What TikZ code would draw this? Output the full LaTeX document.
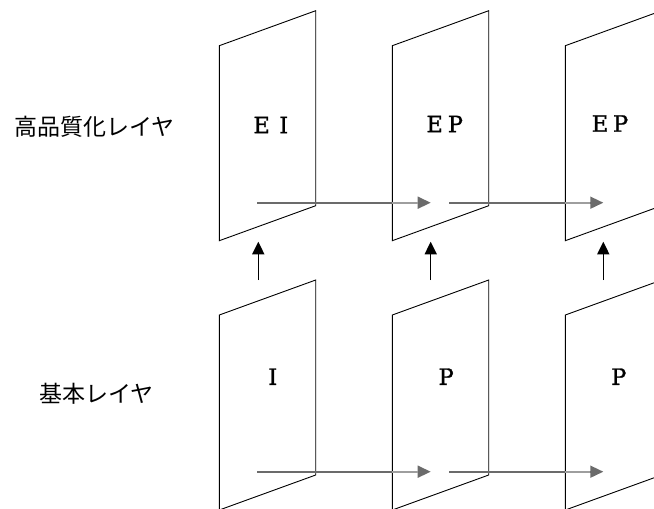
\documentclass[tikz,border=0pt]{standalone}
\usepackage{fontspec}
\newfontfamily\jpfont{Noto Sans CJK JP}
\newfontfamily\namefont[FakeBold=1.2]{DejaVu Serif}
\usetikzlibrary{arrows.meta}

\tikzset{
  frame/.style={draw=black, line width=0.9pt, line join=miter},
  flow/.style={draw=black!58, line width=1.6pt,
    -{Triangle[length=13pt,width=12pt]}},
  behind/.style={draw=black!38, line width=1.6pt},
  lift/.style={draw=black, line width=1.5pt,
    -{Triangle[length=12.6pt,width=12pt]}},
  layerlabel/.style={font=\jpfont\fontsize{23}{28}\selectfont, inner sep=0pt},
  picname/.style={font=\namefont\fontsize{22.5}{26}\selectfont, inner sep=0pt}
}

% one slanted picture plane: #1 = left x, #2 = top-left y
\newcommand{\pictplane}[2]{%
  \draw[frame] (#1,#2) -- ++(96.4,-35) -- ++(0,195) -- ++(-96.4,35) -- cycle;}

\begin{document}
\begin{tikzpicture}[x=1pt,y=-1pt]
  \useasboundingbox (0,0) rectangle (654,509);

  % layer captions
  \node[layerlabel] (enh) at (94.2,126.7) {高品質化レイヤ};
  \node[layerlabel] (base) at (96.2,394) {基本レイヤ};

  % enhancement layer planes
  \pictplane{219.3}{45.7}
  \pictplane{392.3}{45.7}
  \pictplane{565.3}{45.7}
  % base layer planes
  \pictplane{219.3}{315}
  \pictplane{392.3}{315}
  \pictplane{565.3}{315}

  % picture names
  \node[picname] (ei)  at (270.8,125) {E\hspace{0.42em}I};
  \node[picname] (ep1) at (444.7,124) {E\hspace{0.22em}P};
  \node[picname] (ep2) at (610,123.5) {E\hspace{0.22em}P};
  \node[picname] (bi)  at (272.8,376.7) {I};
  \node[picname] (bp1) at (446.2,376.7) {P};
  \node[picname] (bp2) at (618.8,376.7) {P};

  % prediction arrow end points
  \foreach \r/\y in {t/202.7, b/471.7}{
    \coordinate (\r s1) at (257.3,\y);
    \coordinate (\r e1) at (430.7,\y);
    \coordinate (\r s2) at (449.3,\y);
    \coordinate (\r e2) at (603.3,\y);
    \coordinate (\r k1) at (392.3,\y);
    \coordinate (\r h1) at (417.7,\y);
    \coordinate (\r k2) at (565.3,\y);
    \coordinate (\r h2) at (590.3,\y);
  }

  % temporal prediction arrows (the part behind the next plane is paler)
  \foreach \r in {t,b}{
    \draw[flow] (\r s1) -- (\r e1);
    \draw[flow] (\r s2) -- (\r e2);
    \draw[behind] (\r k1) -- (\r h1);
    \draw[behind] (\r k2) -- (\r h2);
  }

  % inter-layer arrows
  \foreach \x [count=\i] in {258.3,430.7,603.3}{
    \coordinate (up\i a) at (\x,280);
    \coordinate (up\i b) at (\x,241.7);
    \draw[lift] (up\i a) -- (up\i b);
  }
\end{tikzpicture}
\end{document}
